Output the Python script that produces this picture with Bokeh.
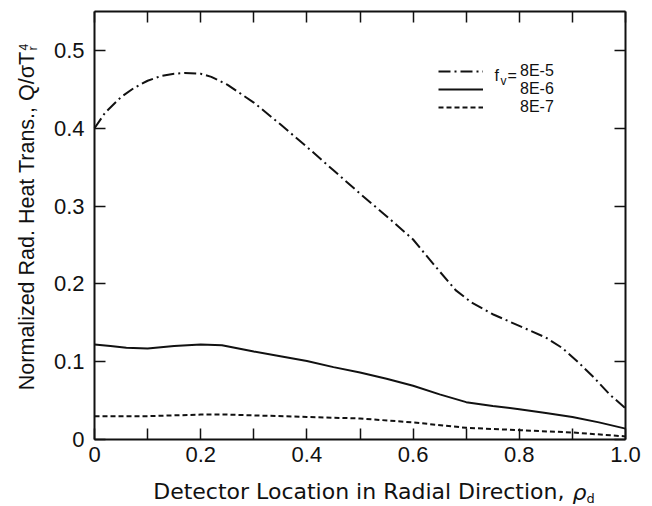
import math
from bokeh.plotting import figure
from bokeh.models import (Range1d, FixedTicker, LinearAxis, Legend, LegendItem, Label)
from bokeh.embed import file_html
from bokeh.resources import INLINE

# ---------------- data ----------------
x_8e5 = [0, 0.02, 0.05, 0.075, 0.1, 0.125, 0.15, 0.17, 0.2, 0.22, 0.25, 0.3, 0.35,
         0.4, 0.45, 0.5, 0.55, 0.6, 0.64, 0.68, 0.71, 0.75, 0.8, 0.85, 0.88, 0.91,
         0.94, 0.97, 1.0]
y_8e5 = [0.400, 0.420, 0.440, 0.452, 0.461, 0.467, 0.470, 0.471, 0.470, 0.466, 0.456,
         0.433, 0.405, 0.376, 0.346, 0.316, 0.287, 0.257, 0.224, 0.192, 0.176, 0.161,
         0.146, 0.131, 0.118, 0.100, 0.080, 0.058, 0.040]

x_8e6 = [0, 0.03, 0.06, 0.1, 0.15, 0.2, 0.24, 0.3, 0.35, 0.4, 0.45, 0.5, 0.55, 0.6,
         0.65, 0.7, 0.75, 0.8, 0.85, 0.9, 0.95, 1.0]
y_8e6 = [0.122, 0.120, 0.118, 0.117, 0.120, 0.122, 0.121, 0.113, 0.107, 0.101, 0.093,
         0.086, 0.078, 0.069, 0.058, 0.048, 0.043, 0.039, 0.034, 0.029, 0.022, 0.014]

x_8e7 = [0, 0.1, 0.2, 0.25, 0.3, 0.4, 0.5, 0.6, 0.7, 0.8, 0.9, 1.0]
y_8e7 = [0.030, 0.030, 0.032, 0.032, 0.031, 0.029, 0.027, 0.022, 0.015, 0.012, 0.009, 0.004]

series_labels = ["8E-5", "8E-6", "8E-7"]

x_label_ticks = [0, 0.2, 0.4, 0.6, 0.8, 1.0]
x_tick_labels = ["0", "0.2", "0.4", "0.6", "0.8", "1.0"]
x_unlabelled_ticks = [0.1, 0.3, 0.5, 0.7, 0.9]
x_all_ticks = [0, 0.1, 0.2, 0.3, 0.4, 0.5, 0.6, 0.7, 0.8, 0.9, 1.0]
y_ticks = [0, 0.1, 0.2, 0.3, 0.4, 0.5]
y_tick_labels = ["0", "0.1", "0.2", "0.3", "0.4", "0.5"]

X_MIN, X_MAX = 0.0, 1.0
Y_MIN, Y_MAX = 0.0, 0.55

# ---------------- layout / styling ----------------
W, H = 652, 506
BOX_L, BOX_R, BOX_T, BOX_B = 94, 625, 11, 439      # plot box in canvas pixels
LEGEND_X = 438                                      # legend key left edge
LEGEND_ROWS_Y = [71, 89, 107]                       # legend row centres
FONT = "Liberation Sans"
TITLE_FONT = "DejaVu Sans"
INK = "#111111"
TICK_LEN = 11

sx_per = (BOX_R - BOX_L) / (X_MAX - X_MIN)
sy_per = (BOX_B - BOX_T) / (Y_MAX - Y_MIN)
x_range = Range1d(X_MIN - BOX_L / sx_per, X_MAX + (W - BOX_R) / sx_per)
y_range = Range1d(Y_MIN - (H - BOX_B) / sy_per, Y_MAX + BOX_T / sy_per)

p = figure(width=W, height=H, output_backend="svg", toolbar_location=None,
           x_range=x_range, y_range=y_range,
           min_border_left=0, min_border_right=0, min_border_top=0,
           min_border_bottom=0)
p.background_fill_color = "white"
p.border_fill_color = "white"
p.outline_line_color = None
p.xgrid.visible = False
p.ygrid.visible = False


def style_axis(ax, major, minor, labels, loc, bounds):
    ax.fixed_location = loc
    ax.bounds = bounds
    ax.ticker = FixedTicker(ticks=major, minor_ticks=minor)
    if labels:
        ax.major_label_overrides = {t: l for t, l in zip(major, labels)}
    for kind in ("major", "minor"):
        setattr(ax, f"{kind}_tick_in", TICK_LEN)
        setattr(ax, f"{kind}_tick_out", 0)
        setattr(ax, f"{kind}_tick_line_width", 1.5)
        setattr(ax, f"{kind}_tick_line_color", INK)
    ax.axis_line_width = 2
    ax.axis_line_color = INK
    ax.major_label_text_font = FONT
    ax.major_label_text_color = INK
    ax.major_label_text_font_size = "22px"


# bottom: labelled ticks every 0.2, unlabelled ones in between
style_axis(p.xaxis[0], x_label_ticks, x_unlabelled_ticks, x_tick_labels,
           Y_MIN, (X_MIN, X_MAX))
p.xaxis[0].major_label_standoff = 7
# left
style_axis(p.yaxis[0], y_ticks, [], y_tick_labels, X_MIN, (Y_MIN, Y_MAX))
p.yaxis[0].major_label_standoff = 10
p.yaxis[0].major_label_orientation = "horizontal"

# top and right: ticks only (drawn as minor ticks, so no labels exist)
top_ax = LinearAxis()
style_axis(top_ax, [], x_all_ticks, None, Y_MAX, (X_MIN, X_MAX))
p.add_layout(top_ax, "above")
right_ax = LinearAxis()
style_axis(right_ax, [], y_ticks, None, X_MAX, (Y_MIN, Y_MAX))
p.add_layout(right_ax, "right")

r1 = p.line(x_8e5, y_8e5, line_color=INK, line_width=2, line_dash="12 4 2 4")
r2 = p.line(x_8e6, y_8e6, line_color=INK, line_width=2)
r3 = p.line(x_8e7, y_8e7, line_color=INK, line_width=2, line_dash="5 3")

# one single-row legend per series so the rows can sit as tightly as in the print
ROW_H = 18
for lab, rend, yc in zip(series_labels, [r1, r2, r3], LEGEND_ROWS_Y):
    lg = Legend(items=[LegendItem(label=lab, renderers=[rend])],
                location=(LEGEND_X, H - (yc + ROW_H / 2)), glyph_width=45,
                glyph_height=ROW_H, label_height=ROW_H, label_standoff=37,
                spacing=0, padding=0, margin=0, border_line_color=None,
                background_fill_alpha=0, label_text_font=FONT,
                label_text_font_size="16px", label_text_color=INK)
    p.add_layout(lg)


def screen_label(x, y, text, size, font=FONT, **kw):
    """Label placed in canvas pixels (x from left, y from top)."""
    p.add_layout(Label(x=x, y=H - y, x_units="screen", y_units="screen", text=text,
                       text_font=font, text_font_size=size, text_color=INK,
                       text_baseline=kw.pop("text_baseline", "alphabetic"), **kw))


# f_v = prefix of the legend
screen_label(494, 75, "f", "16px")
screen_label(500, 80, "v", "12px")
screen_label(507, 75, "=", "16px")

# y axis title (rotated)
screen_label(26, 51, "Normalized Rad. Heat Trans., Q/\u03c3T", "21.5px",
             angle=math.pi / 2, text_align="right")
screen_label(23, 50, "4", "12px", angle=math.pi / 2, text_align="left")
screen_label(32, 50, "r", "13px", angle=math.pi / 2, text_align="left")

# x axis title
screen_label(564, 491, "Detector Location in Radial Direction,", "22px",
             font=TITLE_FONT, text_align="right")
screen_label(572, 492, "\u03c1", "22px", font=TITLE_FONT, text_align="left",
             text_font_style="italic")
screen_label(586, 498, "d", "13px", font=TITLE_FONT, text_align="left")

open("out.html", "w").write(file_html(p, INLINE))
